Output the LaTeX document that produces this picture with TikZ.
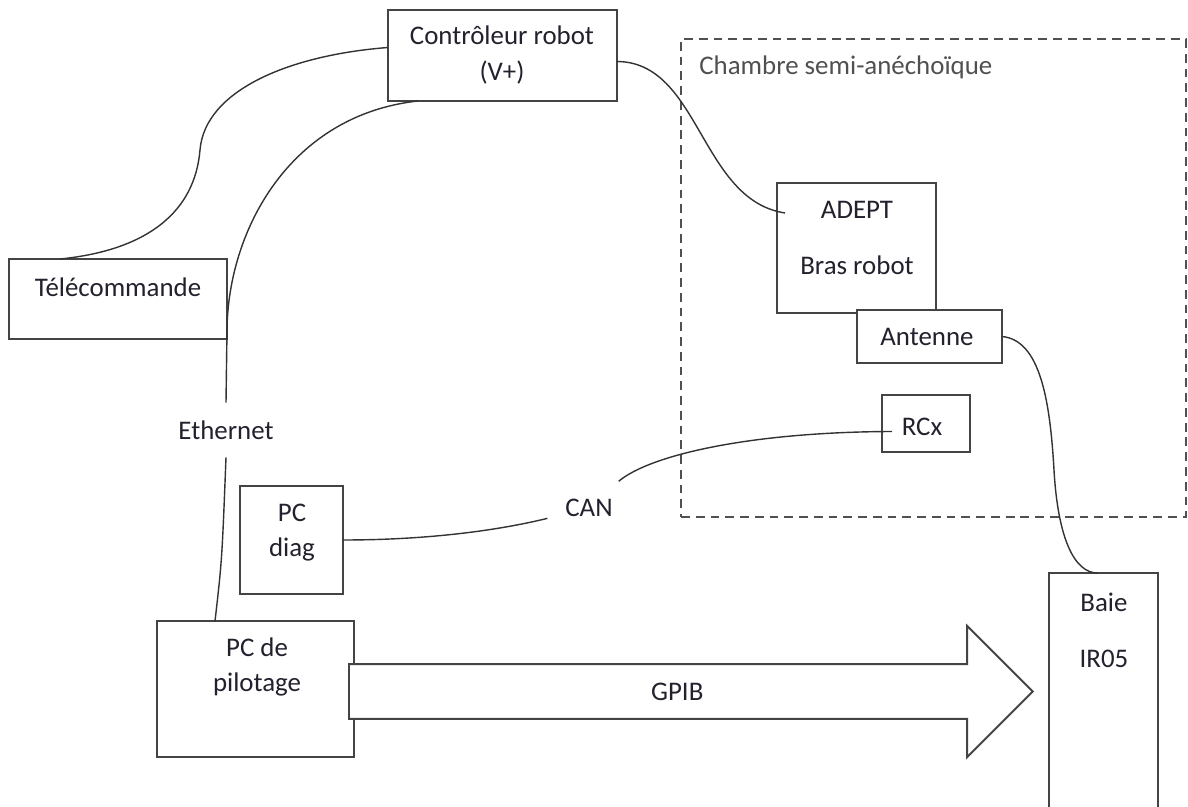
\documentclass[tikz,border=0pt]{standalone}
\usepackage{fontspec}
\setmainfont{Carlito}
\usetikzlibrary{shapes.arrows}

\definecolor{ink}{HTML}{22222E}
\definecolor{wire}{HTML}{333333}
\definecolor{frame}{HTML}{444444}
\definecolor{chambergray}{HTML}{505050}

\tikzset{
    box/.style={draw=frame, line width=1.1pt, fill=white, inner sep=0pt, outer sep=0pt},
    lbl/.style={text=ink, align=center, inner sep=0pt},
    cable/.style={draw=wire, line width=0.8pt},
    chamber/.style={draw=chambergray, line width=1.1pt, dash pattern=on 5pt off 3.4pt, inner sep=0pt},
    bus/.style={single arrow, draw=frame, line width=1.1pt, fill=white, text=ink,
        minimum height=13.68cm, text height=10pt, text depth=0pt, inner ysep=10pt, inner xsep=0pt,
        single arrow head extend=0.77cm, outer sep=0pt}
}

\begin{document}
\begin{tikzpicture}[x=0.02cm, y=-0.02cm, font=\fontsize{15.3}{20}\selectfont, line join=miter]
    \clip (0, 0) rectangle (1188, 807);

    % chambre semi-anechoique
    \node[chamber, minimum width=10.1cm, minimum height=9.56cm] (chambre) at (933.5, 278) {};
    \node[text=chambergray, anchor=west, inner sep=0pt] (chambre-t) at (699, 67) {Chambre semi-anéchoïque};

    % equipements
    \node[box, minimum width=4.58cm, minimum height=1.82cm] (ctrl) at (502.5, 55.5) {};
    \node[box, minimum width=4.36cm, minimum height=1.6cm] (telec) at (118, 299) {};
    \node[box, minimum width=3.18cm, minimum height=2.6cm] (adept) at (856.5, 248) {};
    \node[box, minimum width=2.9cm, minimum height=1.06cm] (antenne) at (929.5, 336.5) {};
    \node[box, minimum width=1.76cm, minimum height=1.14cm] (rcx) at (926, 423.5) {};
    \node[box, minimum width=2.06cm, minimum height=2.16cm] (pcdiag) at (291.5, 540) {};
    \node[box, minimum width=3.94cm, minimum height=2.72cm] (pc) at (255.5, 689) {};
    \node[box, minimum width=2.18cm, minimum height=5.34cm] (baie) at (1103.5, 706.5) {};

    \node[lbl] (ctrl-t) at (502, 55) {Contrôleur robot\\(V+)};
    \node[lbl] (telec-t) at (118, 287) {Télécommande};
    \node[lbl] (adept-t) at (857, 238) {ADEPT\\[12pt]Bras robot};
    \node[lbl] (antenne-t) at (927, 337) {Antenne};
    \node[lbl] (rcx-t) at (922, 427) {RCx};
    \node[lbl] (pcdiag-t) at (292, 533) {PC\\diag};
    \node[lbl] (pc-t) at (257, 667) {PC de\\pilotage};
    \node[lbl] (baie-t) at (1104, 630) {Baie\\[12pt]IR05};

    % bus GPIB
    \node[bus, anchor=tail] (gpib) at ([shift={(-5, 2.5)}]pc.east) {GPIB};

    % libelles des liaisons
    \node[lbl, inner ysep=10pt] (eth) at (226, 430) {Ethernet};
    \node[lbl, inner sep=10pt] (can) at (589, 508) {CAN};

    % cables
    \draw[cable] ([shift={(51, 0)}]telec.north west) .. controls (150, 250) and (195, 210) .. (200, 150)
        .. controls (205, 90) and (290, 55) .. ([shift={(0, -8)}]ctrl.west);
    \draw[cable] ([shift={(30, 0)}]ctrl.south west) .. controls (290, 115) and (228, 230) .. (227, 330)
        -- (eth.north);
    \draw[cable] (eth.south) .. controls (222, 560) .. ([shift={(58, 0)}]pc.north west);
    \draw[cable] ([shift={(0, 6)}]ctrl.east) .. controls (700, 62) and (700, 200) .. ([shift={(8, -35)}]adept.west);
    \draw[cable] (antenne.east) .. controls (1040, 340) and (1050, 400) .. (1054, 470)
        .. controls (1058, 540) and (1075, 573) .. ([shift={(-6, 0)}]baie.north);
    \draw[cable] (pcdiag.east) .. controls (430, 540) and (500, 530) .. (can.194);
    \draw[cable] (can.42) .. controls (650, 455) and (750, 432) .. ([shift={(10, 8)}]rcx.west);
\end{tikzpicture}
\end{document}
